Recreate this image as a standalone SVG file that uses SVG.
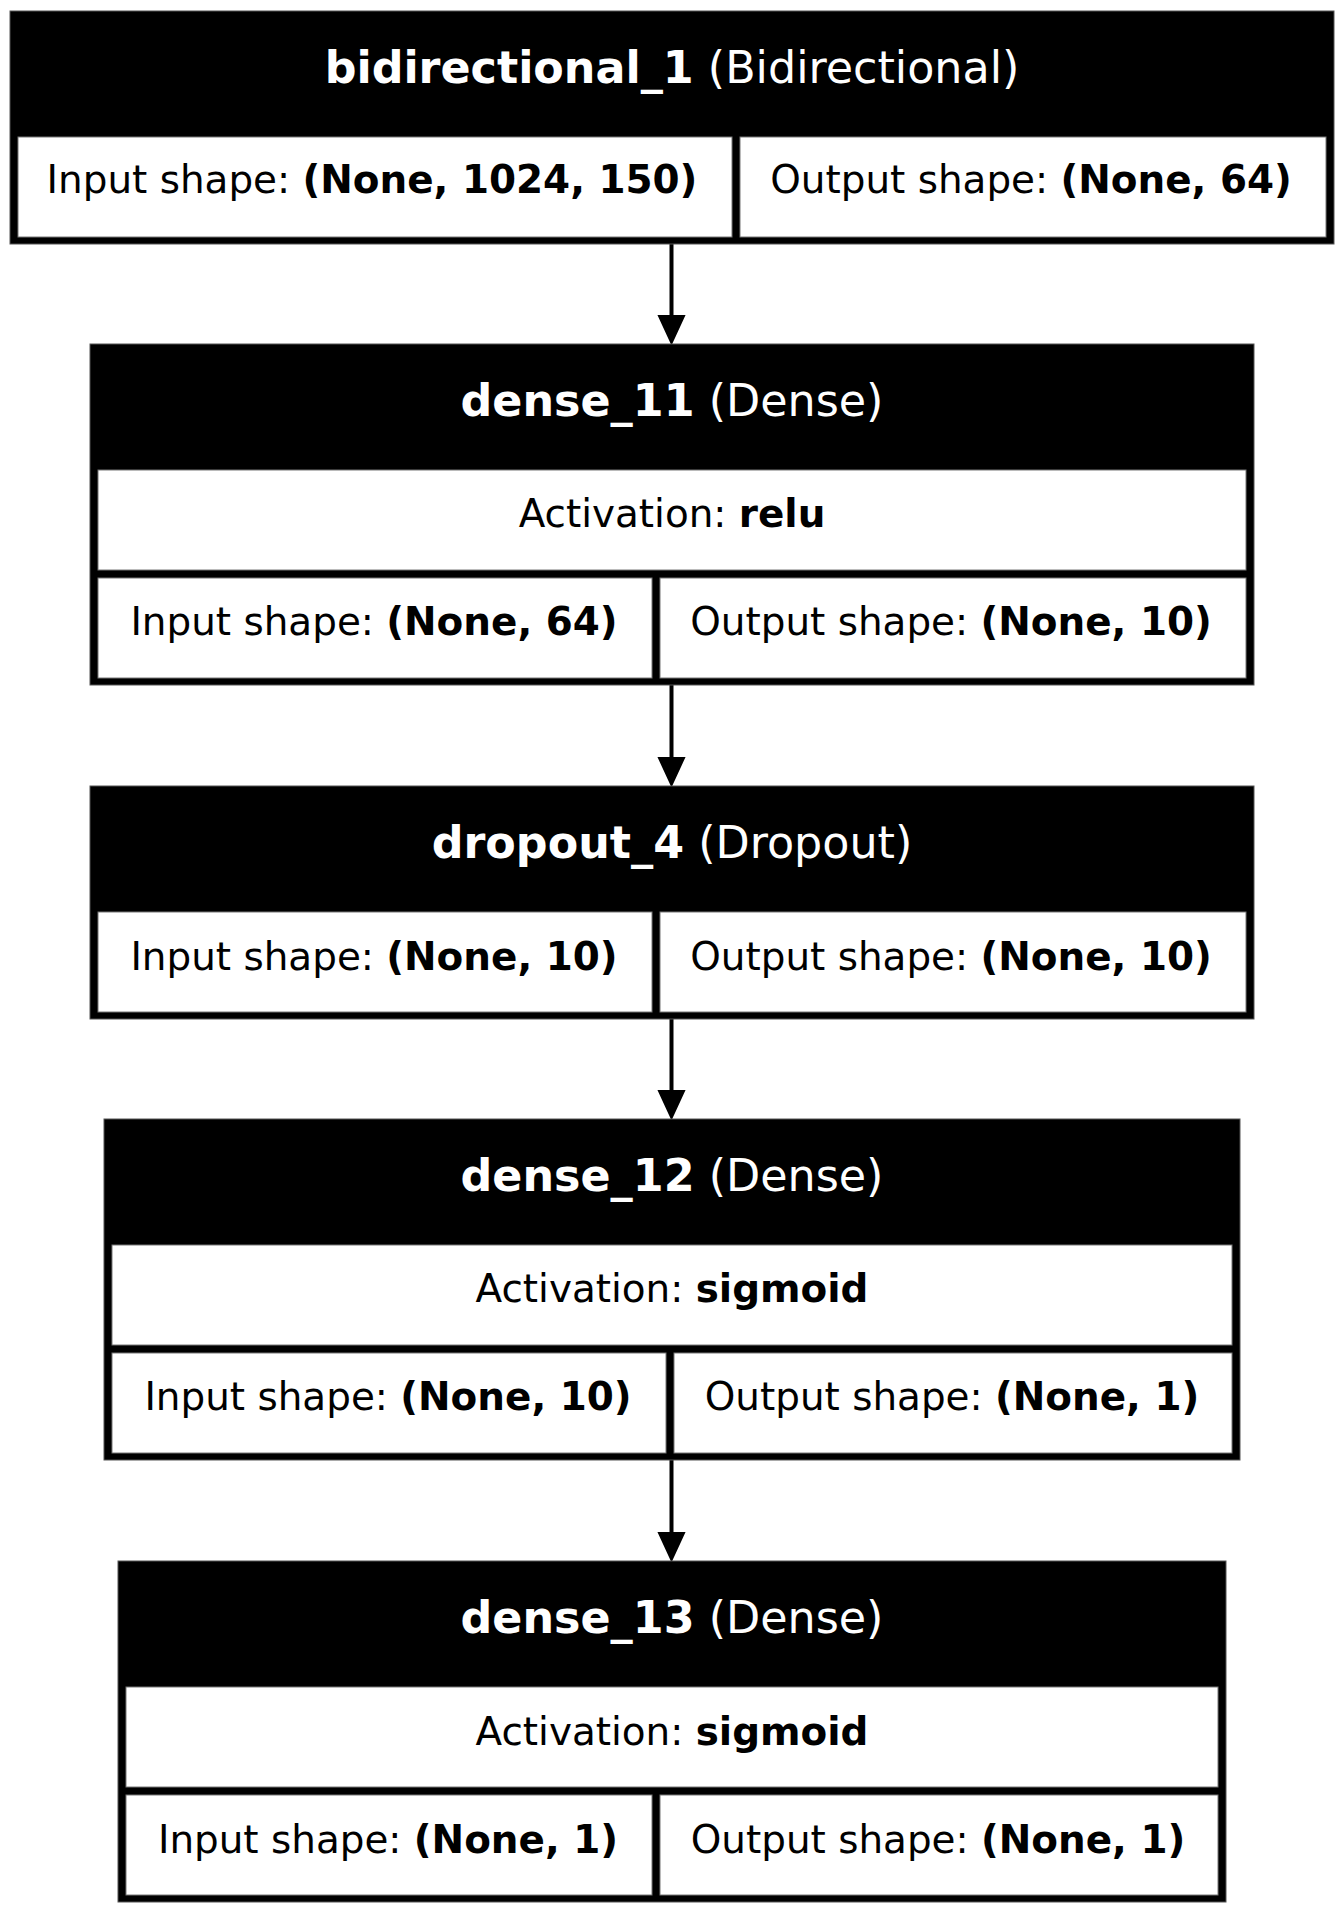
<svg xmlns="http://www.w3.org/2000/svg" width="1344" height="1914" viewBox="0 0 1344 1914">
<style>
.outer{fill:#000;stroke:#555;stroke-width:1}
.cell{fill:#fff;stroke:#777;stroke-width:1}
.title{font-family:"DejaVu Sans",sans-serif;font-size:44.4px;fill:#fff;text-anchor:middle}
.body{font-family:"DejaVu Sans",sans-serif;font-size:38.9px;fill:#000;text-anchor:middle}
.b{font-weight:bold}
.edge{stroke:#000;stroke-width:4;fill:none}
.head{fill:#000;stroke:#000;stroke-width:2}
</style>
<rect width="1344" height="1914" fill="#fff"/>
<g id="connectors">
<line class="edge" x1="671.5" y1="244" x2="671.5" y2="316"/>
<polygon class="head" points="659,316 684,316 671.5,343"/>
<line class="edge" x1="671.5" y1="685" x2="671.5" y2="758"/>
<polygon class="head" points="659,758 684,758 671.5,785"/>
<line class="edge" x1="671.5" y1="1019" x2="671.5" y2="1091"/>
<polygon class="head" points="659,1091 684,1091 671.5,1118"/>
<line class="edge" x1="671.5" y1="1460" x2="671.5" y2="1533"/>
<polygon class="head" points="659,1533 684,1533 671.5,1560"/>
</g>
<g id="bidirectional_1">
<rect class="outer" x="10" y="11" width="1324" height="233"/>
<rect class="cell" x="18" y="137" width="714" height="100"/>
<rect class="cell" x="740" y="137" width="586" height="100"/>
<text class="title" x="672" y="82.5"><tspan class="b">bidirectional_1</tspan> (Bidirectional)</text>
<text class="body" x="372" y="193">Input shape: <tspan class="b">(None, 1024, 150)</tspan></text>
<text class="body" x="1031" y="193">Output shape: <tspan class="b">(None, 64)</tspan></text>
</g>
<g id="dense_11">
<rect class="outer" x="90" y="344" width="1164" height="341"/>
<rect class="cell" x="98" y="470" width="1148" height="100"/>
<rect class="cell" x="98" y="578" width="554" height="100"/>
<rect class="cell" x="660" y="578" width="586" height="100"/>
<text class="title" x="672" y="415.5"><tspan class="b">dense_11</tspan> (Dense)</text>
<text class="body" x="672" y="527">Activation: <tspan class="b">relu</tspan></text>
<text class="body" x="374" y="635">Input shape: <tspan class="b">(None, 64)</tspan></text>
<text class="body" x="951" y="635">Output shape: <tspan class="b">(None, 10)</tspan></text>
</g>
<g id="dropout_4">
<rect class="outer" x="90" y="786" width="1164" height="233"/>
<rect class="cell" x="98" y="912" width="554" height="100"/>
<rect class="cell" x="660" y="912" width="586" height="100"/>
<text class="title" x="672" y="858"><tspan class="b">dropout_4</tspan> (Dropout)</text>
<text class="body" x="374" y="970">Input shape: <tspan class="b">(None, 10)</tspan></text>
<text class="body" x="951" y="970">Output shape: <tspan class="b">(None, 10)</tspan></text>
</g>
<g id="dense_12">
<rect class="outer" x="104" y="1119" width="1136" height="341"/>
<rect class="cell" x="112" y="1245" width="1120" height="100"/>
<rect class="cell" x="112" y="1353" width="554" height="100"/>
<rect class="cell" x="674" y="1353" width="558" height="100"/>
<text class="title" x="672" y="1190.5"><tspan class="b">dense_12</tspan> (Dense)</text>
<text class="body" x="672" y="1302">Activation: <tspan class="b">sigmoid</tspan></text>
<text class="body" x="388" y="1410">Input shape: <tspan class="b">(None, 10)</tspan></text>
<text class="body" x="952" y="1410">Output shape: <tspan class="b">(None, 1)</tspan></text>
</g>
<g id="dense_13">
<rect class="outer" x="118" y="1561" width="1108" height="341"/>
<rect class="cell" x="126" y="1687" width="1092" height="100"/>
<rect class="cell" x="126" y="1795" width="526" height="100"/>
<rect class="cell" x="660" y="1795" width="558" height="100"/>
<text class="title" x="672" y="1632.5"><tspan class="b">dense_13</tspan> (Dense)</text>
<text class="body" x="672" y="1745">Activation: <tspan class="b">sigmoid</tspan></text>
<text class="body" x="388" y="1853">Input shape: <tspan class="b">(None, 1)</tspan></text>
<text class="body" x="938" y="1853">Output shape: <tspan class="b">(None, 1)</tspan></text>
</g>
</svg>
